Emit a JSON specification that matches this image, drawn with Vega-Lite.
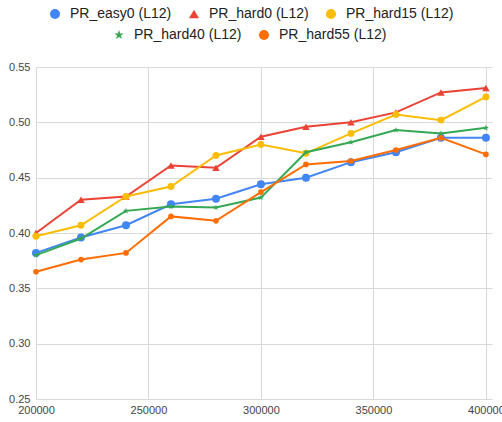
{
  "$schema": "https://vega.github.io/schema/vega-lite/v6.json",
  "width": 456,
  "height": 332,
  "autosize": "none",
  "padding": {"left": 36, "top": 67, "right": 10, "bottom": 23},
  "background": "white",
  "config": {
    "font": "Liberation Sans",
    "view": {"stroke": null},
    "axis": {"labelFont": "Liberation Sans", "labelFontSize": 11, "labelColor": "#444444", "gridColor": "#d9d9d9", "gridWidth": 1, "domain": false, "ticks": false, "title": null},
    "legend": {"labelFont": "Liberation Sans", "labelFontSize": 14, "labelColor": "#222222", "symbolSize": 100, "symbolStrokeWidth": 0, "labelOffset": 8, "columnPadding": 15, "title": null}
  },
  "data": {
    "values": [
      {"x": 200000, "series": "PR_easy0 (L12)", "v": 0.382},
      {"x": 220000, "series": "PR_easy0 (L12)", "v": 0.396},
      {"x": 240000, "series": "PR_easy0 (L12)", "v": 0.407},
      {"x": 260000, "series": "PR_easy0 (L12)", "v": 0.426},
      {"x": 280000, "series": "PR_easy0 (L12)", "v": 0.431},
      {"x": 300000, "series": "PR_easy0 (L12)", "v": 0.444},
      {"x": 320000, "series": "PR_easy0 (L12)", "v": 0.450},
      {"x": 340000, "series": "PR_easy0 (L12)", "v": 0.464},
      {"x": 360000, "series": "PR_easy0 (L12)", "v": 0.473},
      {"x": 380000, "series": "PR_easy0 (L12)", "v": 0.486},
      {"x": 400000, "series": "PR_easy0 (L12)", "v": 0.486},
      {"x": 200000, "series": "PR_hard0 (L12)", "v": 0.400},
      {"x": 220000, "series": "PR_hard0 (L12)", "v": 0.430},
      {"x": 240000, "series": "PR_hard0 (L12)", "v": 0.433},
      {"x": 260000, "series": "PR_hard0 (L12)", "v": 0.461},
      {"x": 280000, "series": "PR_hard0 (L12)", "v": 0.459},
      {"x": 300000, "series": "PR_hard0 (L12)", "v": 0.487},
      {"x": 320000, "series": "PR_hard0 (L12)", "v": 0.496},
      {"x": 340000, "series": "PR_hard0 (L12)", "v": 0.500},
      {"x": 360000, "series": "PR_hard0 (L12)", "v": 0.509},
      {"x": 380000, "series": "PR_hard0 (L12)", "v": 0.527},
      {"x": 400000, "series": "PR_hard0 (L12)", "v": 0.531},
      {"x": 200000, "series": "PR_hard15 (L12)", "v": 0.397},
      {"x": 220000, "series": "PR_hard15 (L12)", "v": 0.407},
      {"x": 240000, "series": "PR_hard15 (L12)", "v": 0.433},
      {"x": 260000, "series": "PR_hard15 (L12)", "v": 0.442},
      {"x": 280000, "series": "PR_hard15 (L12)", "v": 0.470},
      {"x": 300000, "series": "PR_hard15 (L12)", "v": 0.480},
      {"x": 320000, "series": "PR_hard15 (L12)", "v": 0.472},
      {"x": 340000, "series": "PR_hard15 (L12)", "v": 0.490},
      {"x": 360000, "series": "PR_hard15 (L12)", "v": 0.507},
      {"x": 380000, "series": "PR_hard15 (L12)", "v": 0.502},
      {"x": 400000, "series": "PR_hard15 (L12)", "v": 0.523},
      {"x": 200000, "series": "PR_hard40 (L12)", "v": 0.380},
      {"x": 220000, "series": "PR_hard40 (L12)", "v": 0.395},
      {"x": 240000, "series": "PR_hard40 (L12)", "v": 0.420},
      {"x": 260000, "series": "PR_hard40 (L12)", "v": 0.424},
      {"x": 280000, "series": "PR_hard40 (L12)", "v": 0.423},
      {"x": 300000, "series": "PR_hard40 (L12)", "v": 0.432},
      {"x": 320000, "series": "PR_hard40 (L12)", "v": 0.473},
      {"x": 340000, "series": "PR_hard40 (L12)", "v": 0.482},
      {"x": 360000, "series": "PR_hard40 (L12)", "v": 0.493},
      {"x": 380000, "series": "PR_hard40 (L12)", "v": 0.490},
      {"x": 400000, "series": "PR_hard40 (L12)", "v": 0.495},
      {"x": 200000, "series": "PR_hard55 (L12)", "v": 0.365},
      {"x": 220000, "series": "PR_hard55 (L12)", "v": 0.376},
      {"x": 240000, "series": "PR_hard55 (L12)", "v": 0.382},
      {"x": 260000, "series": "PR_hard55 (L12)", "v": 0.415},
      {"x": 280000, "series": "PR_hard55 (L12)", "v": 0.411},
      {"x": 300000, "series": "PR_hard55 (L12)", "v": 0.437},
      {"x": 320000, "series": "PR_hard55 (L12)", "v": 0.462},
      {"x": 340000, "series": "PR_hard55 (L12)", "v": 0.465},
      {"x": 360000, "series": "PR_hard55 (L12)", "v": 0.475},
      {"x": 380000, "series": "PR_hard55 (L12)", "v": 0.486},
      {"x": 400000, "series": "PR_hard55 (L12)", "v": 0.471}
    ]
  },
  "encoding": {
    "x": {"field": "x", "type": "quantitative", "scale": {"domain": [200000, 402700], "nice": false, "zero": false}, "axis": {"values": [200000, 250000, 300000, 350000, 400000], "format": "d", "labelPadding": 5, "labelOverlap": false, "labelFlush": false}},
    "y": {"field": "v", "type": "quantitative", "scale": {"domain": [0.25, 0.55], "nice": false, "zero": false}, "axis": {"values": [0.25, 0.3, 0.35, 0.4, 0.45, 0.5, 0.55], "format": ".2f", "labelPadding": 6}}
  },
  "layer": [
    {
      "transform": [{"filter": {"field": "series", "oneOf": ["PR_easy0 (L12)", "PR_hard0 (L12)", "PR_hard15 (L12)"]}}],
      "encoding": {
        "color": {"field": "series", "type": "nominal", "scale": {"domain": ["PR_easy0 (L12)", "PR_hard0 (L12)", "PR_hard15 (L12)"], "range": ["#4285F4", "#EA4335", "#FBBC04"]}, "legend": {"orient": "none", "direction": "horizontal", "legendX": 12, "legendY": -60}}
      },
      "layer": [
        {"mark": {"type": "line", "strokeWidth": 2}, "encoding": {}},
        {"mark": {"type": "point", "filled": true, "opacity": 1},
         "encoding": {
           "shape": {"field": "series", "type": "nominal", "scale": {"domain": ["PR_easy0 (L12)", "PR_hard0 (L12)", "PR_hard15 (L12)"], "range": ["circle", "triangle-up", "circle"]}, "legend": {"orient": "none", "direction": "horizontal", "legendX": 12, "legendY": -60}},
           "size": {"field": "series", "type": "nominal", "scale": {"domain": ["PR_easy0 (L12)", "PR_hard0 (L12)", "PR_hard15 (L12)", "PR_hard40 (L12)", "PR_hard55 (L12)"], "range": [64, 32, 64, 40, 64]}, "legend": null}
         }}
      ]
    },
    {
      "transform": [{"filter": {"field": "series", "oneOf": ["PR_hard40 (L12)", "PR_hard55 (L12)"]}}],
      "encoding": {
        "color": {"field": "series", "type": "nominal", "scale": {"domain": ["PR_hard40 (L12)", "PR_hard55 (L12)"], "range": ["#34A853", "#FF6D01"]}, "legend": {"orient": "none", "direction": "horizontal", "legendX": 76, "legendY": -39}}
      },
      "layer": [
        {"mark": {"type": "line", "strokeWidth": 2}, "encoding": {}},
        {"mark": {"type": "point", "filled": true, "opacity": 1},
         "encoding": {
           "shape": {"field": "series", "type": "nominal", "scale": {"domain": ["PR_hard40 (L12)", "PR_hard55 (L12)"], "range": ["M0,-1L0.235,-0.324L0.951,-0.309L0.38,0.124L0.588,0.809L0,0.4L-0.588,0.809L-0.38,0.124L-0.951,-0.309L-0.235,-0.324Z", "circle"]}, "legend": {"orient": "none", "direction": "horizontal", "legendX": 76, "legendY": -39}},
           "size": {"field": "series", "type": "nominal", "scale": {"domain": ["PR_easy0 (L12)", "PR_hard0 (L12)", "PR_hard15 (L12)", "PR_hard40 (L12)", "PR_hard55 (L12)"], "range": [64, 32, 64, 40, 64]}, "legend": null}
         }}
      ]
    }
  ],
  "resolve": {"scale": {"color": "independent", "shape": "independent"}}
}
